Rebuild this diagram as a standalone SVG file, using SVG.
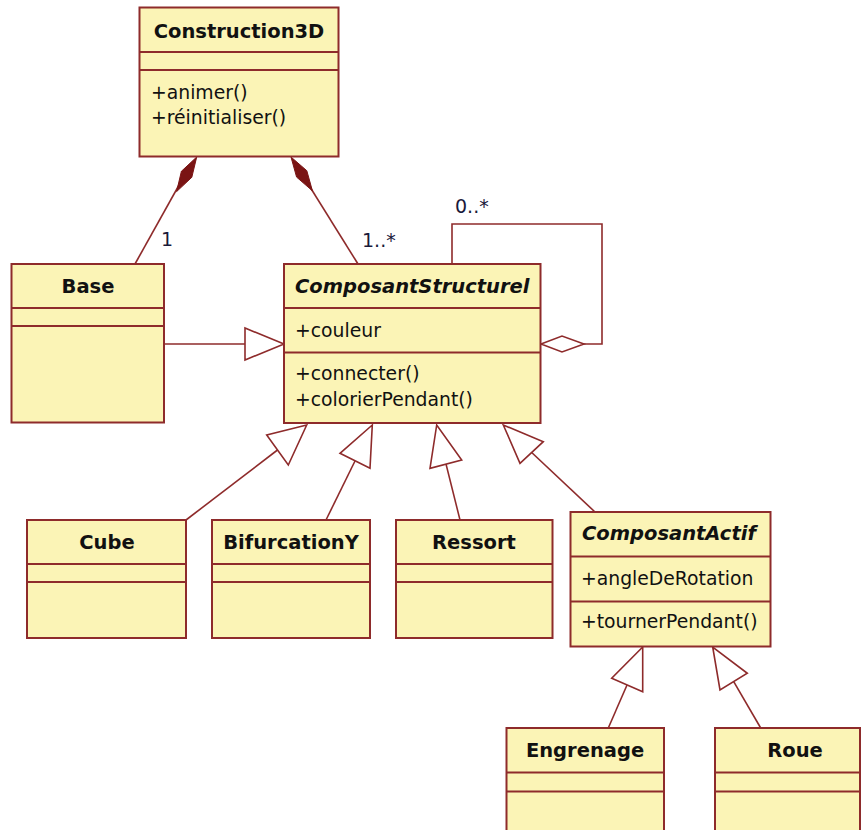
<svg xmlns="http://www.w3.org/2000/svg" width="863" height="830" viewBox="0 0 863 830">
<style>
.box{fill:#FBF4B6;stroke:#8E2B2B;stroke-width:2}
.sep{stroke:#8E2B2B;stroke-width:2}
.t{font-family:"DejaVu Sans","Liberation Sans",sans-serif;font-size:19.5px;font-weight:bold;fill:#111;text-anchor:middle}
.ti{font-family:"DejaVu Sans","Liberation Sans",sans-serif;font-size:19.5px;font-weight:bold;font-style:italic;fill:#111}
.m{font-family:"DejaVu Sans","Liberation Sans",sans-serif;font-size:18.8px;fill:#111}
.lbl{font-family:"DejaVu Sans","Liberation Sans",sans-serif;font-size:19px;fill:#1a1a3a}
.ln{fill:none;stroke:#8E2B2B;stroke-width:1.6}
.tri{fill:#fff;stroke:#8E2B2B;stroke-width:1.6}
.dia{fill:#7A1414;stroke:#7A1414;stroke-width:1}
</style>
<rect width="863" height="830" fill="#fff"/>
<g id="connectors">
  <line class="ln" x1="181" y1="181.5" x2="135" y2="264"/>
  <polygon class="dia" points="196.7,157 191.8,177.3 176.6,191.6 181.4,171.3"/>
  <line class="ln" x1="310" y1="187" x2="358" y2="264"/>
  <polygon class="dia" points="291,157 296.6,177.1 312.4,190.8 306.8,170.7"/>
  <text class="lbl" x="161" y="246">1</text>
  <text class="lbl" x="362" y="247">1..*</text>
  <polyline class="ln" points="452,264 452,224 602,224 602,344 584,344"/>
  <polygon class="tri" points="541,344 562,336 584,344 562,352"/>
  <text class="lbl" x="455" y="213">0..*</text>
  <line class="ln" x1="164" y1="344" x2="245" y2="344"/>
  <polygon class="tri" points="284,344 245,328 245,360"/>
  <line class="ln" x1="186" y1="520" x2="277.5" y2="450"/>
  <polygon class="tri" points="306.7,425 266.7,435 288.3,465"/>
  <line class="ln" x1="326" y1="520" x2="355" y2="461"/>
  <polygon class="tri" points="372.3,425 340,453.3 370,468.3"/>
  <line class="ln" x1="460" y1="520" x2="446" y2="464"/>
  <polygon class="tri" points="436.7,425 430,468.3 461.7,460"/>
  <line class="ln" x1="595" y1="512" x2="531.7" y2="452.5"/>
  <polygon class="tri" points="503.3,425 520,463.3 543.3,441.7"/>
  <line class="ln" x1="608.3" y1="728" x2="627" y2="685"/>
  <polygon class="tri" points="642.7,647 611.7,678.3 642.7,691.7"/>
  <line class="ln" x1="760.7" y1="728" x2="733.7" y2="681.7"/>
  <polygon class="tri" points="712.7,647 720,690 747.3,673.3"/>
</g>
<g id="Construction3D">
  <rect class="box" x="139.5" y="7.5" width="199" height="149"/>
  <line class="sep" x1="139.5" y1="52" x2="338.5" y2="52"/>
  <line class="sep" x1="139.5" y1="70" x2="338.5" y2="70"/>
  <text class="t" x="239" y="38">Construction3D</text>
  <text class="m" x="151" y="99">+animer()</text>
  <text class="m" x="151" y="124">+réinitialiser()</text>
</g>
<g id="Base">
  <rect class="box" x="11.5" y="264" width="152.5" height="158.5"/>
  <line class="sep" x1="11.5" y1="308" x2="164" y2="308"/>
  <line class="sep" x1="11.5" y1="326" x2="164" y2="326"/>
  <text class="t" x="88" y="293">Base</text>
</g>
<g id="ComposantStructurel">
  <rect class="box" x="284" y="264" width="256.5" height="159"/>
  <line class="sep" x1="284" y1="308" x2="540.5" y2="308"/>
  <line class="sep" x1="284" y1="352.5" x2="540.5" y2="352.5"/>
  <text class="ti" x="295" y="293">ComposantStructurel</text>
  <text class="m" x="295" y="337">+couleur</text>
  <text class="m" x="295" y="380">+connecter()</text>
  <text class="m" x="295" y="406">+colorierPendant()</text>
</g>
<g id="Cube">
  <rect class="box" x="27" y="520" width="159" height="118"/>
  <line class="sep" x1="27" y1="564" x2="186" y2="564"/>
  <line class="sep" x1="27" y1="582" x2="186" y2="582"/>
  <text class="t" x="107" y="549">Cube</text>
</g>
<g id="BifurcationY">
  <rect class="box" x="212" y="520" width="158" height="118"/>
  <line class="sep" x1="212" y1="564" x2="370" y2="564"/>
  <line class="sep" x1="212" y1="582" x2="370" y2="582"/>
  <text class="t" x="291" y="549">BifurcationY</text>
</g>
<g id="Ressort">
  <rect class="box" x="396" y="520" width="156.5" height="118"/>
  <line class="sep" x1="396" y1="564" x2="552.5" y2="564"/>
  <line class="sep" x1="396" y1="582" x2="552.5" y2="582"/>
  <text class="t" x="474" y="549">Ressort</text>
</g>
<g id="ComposantActif">
  <rect class="box" x="570.5" y="512" width="200" height="134.5"/>
  <line class="sep" x1="570.5" y1="556.5" x2="770.5" y2="556.5"/>
  <line class="sep" x1="570.5" y1="601.5" x2="770.5" y2="601.5"/>
  <text class="ti" x="582" y="540">ComposantActif</text>
  <text class="m" x="581" y="585">+angleDeRotation</text>
  <text class="m" x="581" y="628">+tournerPendant()</text>
</g>
<g id="Engrenage">
  <rect class="box" x="506.5" y="728" width="157.5" height="110"/>
  <line class="sep" x1="506.5" y1="772.5" x2="664" y2="772.5"/>
  <line class="sep" x1="506.5" y1="791.5" x2="664" y2="791.5"/>
  <text class="t" x="585" y="757">Engrenage</text>
</g>
<g id="Roue">
  <rect class="box" x="715" y="728" width="145" height="110"/>
  <line class="sep" x1="715" y1="772.5" x2="860" y2="772.5"/>
  <line class="sep" x1="715" y1="791.5" x2="860" y2="791.5"/>
  <text class="t" x="795" y="757">Roue</text>
</g>
</svg>
